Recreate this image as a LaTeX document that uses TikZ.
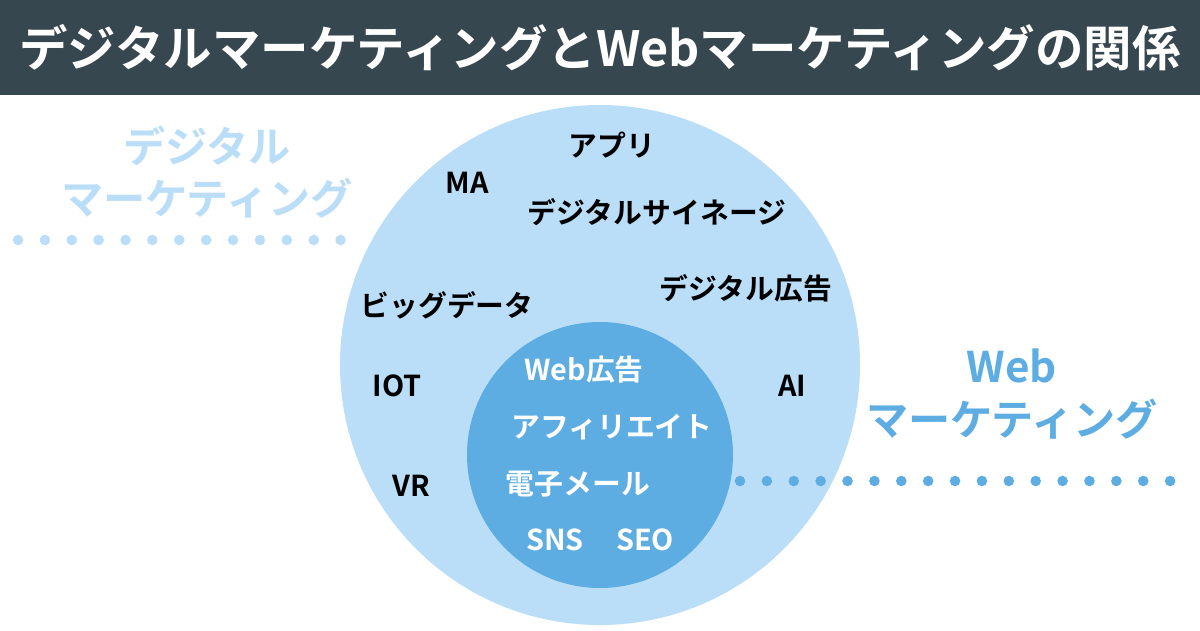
\documentclass[tikz,border=0pt]{standalone}
\usepackage{fontspec}
\setmainfont{Noto Sans CJK JP Bold}
\definecolor{barcol}{HTML}{37474F}
\definecolor{outercol}{HTML}{BBDEF8}
\definecolor{innercol}{HTML}{5DADE2}
\tikzset{
  word/.style={font=\fontsize{16.4}{19}\selectfont, text=black, inner sep=0pt},
  inword/.style={word, text=white},
  biglabel/.style={font=\fontsize{24}{28}\selectfont, inner sep=0pt, align=center},
  dotline/.style={line width=6pt, line cap=round, dash pattern=on 0pt off 15.3pt}
}
\begin{document}
\begin{tikzpicture}[x=0.02cm, y=-0.02cm]
  \useasboundingbox (0,0) rectangle (1200,630);
  \fill[white] (0,0) rectangle (1200,630);
  \fill[barcol] (0,0) rectangle (1200,95);
  \node[font=\fontsize{27.6}{32}\selectfont, text=white] (title) at (600,48) {デジタルマーケティングとWebマーケティングの関係};

  \fill[outercol] (600,365) circle (260);
  \fill[innercol] (600,455) circle (133);

  % labels of the two areas
  \node[biglabel, text=outercol] (dmlabel) at (207,172) {デジタル\\[2pt]マーケティング};
  \node[biglabel, text=innercol] (wmlabel) at (1012,394) {Web\\[2pt]マーケティング};
  \coordinate (dmstart) at (18,240);
  \coordinate (dmend) at (365,240);
  \coordinate (wmstart) at (740,481);
  \coordinate (wmend) at (1172,481);
  \draw[dotline, outercol] (dmstart) -- (dmend);
  \draw[dotline, innercol] (wmstart) -- (wmend);

  % outer circle
  \node[word] (app) at (612,145) {アプリ};
  \node[word] (ma) at (467,183) {MA};
  \node[word] (signage) at (657,212) {デジタルサイネージ};
  \node[word] (dad) at (746,288) {デジタル広告};
  \node[word] (bigdata) at (447,305) {ビッグデータ};
  \node[word] (iot) at (397,386) {IOT};
  \node[word] (ai) at (792,386) {AI};
  \node[word] (vr) at (411,486) {VR};

  % inner circle
  \node[inword] (wad) at (584,370) {Web広告};
  \node[inword] (aff) at (612,427) {アフィリエイト};
  \node[inword] (mail) at (578,484) {電子メール};
  \node[inword] (sns) at (555,540) {SNS};
  \node[inword] (seo) at (645,540) {SEO};
\end{tikzpicture}
\end{document}
